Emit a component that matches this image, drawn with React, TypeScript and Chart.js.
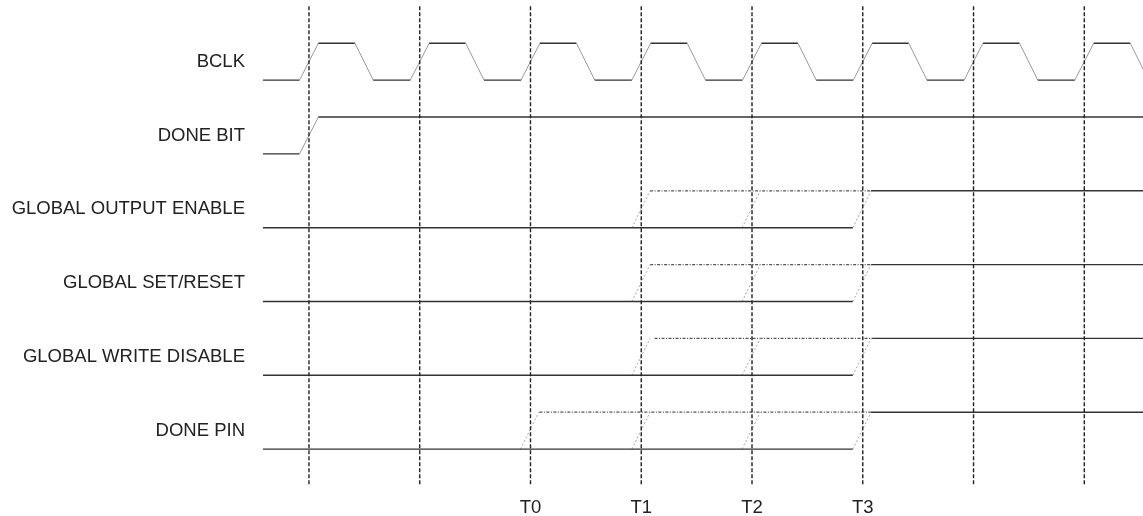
import React, { useEffect, useRef } from "react";
import { Chart, registerables } from "chart.js";

Chart.register(...registerables);

// Signal names (top to bottom) and the base (low-level) row value of each
const signalNames = [
  "BCLK",
  "DONE BIT",
  "GLOBAL OUTPUT ENABLE",
  "GLOBAL SET/RESET",
  "GLOBAL WRITE DISABLE",
  "DONE PIN",
];
const rowBases = [10, 8, 6, 4, 2, 0];

// Clock edges (dashed markers) in clock periods, and the labelled ones
const markerTimes = [0, 1, 2, 3, 4, 5, 6, 7];
const markerLabelTimes = [2, 3, 4, 5];
const markerLabels = ["T0", "T1", "T2", "T3"];

// Solid waveform segments: [time, level] pairs, null = break
const bclkWave: ([number, number] | null)[] = [
  [-0.42, 0], [-0.085, 0], [0.085, 1], [0.415, 1], [0.58, 0], [0.915, 0],
  [1.085, 1], [1.415, 1], [1.58, 0], [1.915, 0], [2.085, 1], [2.415, 1],
  [2.58, 0], [2.915, 0], [3.085, 1], [3.415, 1], [3.58, 0], [3.915, 0],
  [4.085, 1], [4.415, 1], [4.58, 0], [4.915, 0], [5.085, 1], [5.415, 1],
  [5.58, 0], [5.915, 0], [6.085, 1], [6.415, 1], [6.58, 0], [6.915, 0],
  [7.085, 1], [7.415, 1], [7.58, 0],
];
const doneBitWave: ([number, number] | null)[] = [
  [-0.42, 0], [-0.085, 0], [0.085, 1], [7.6, 1],
];
const goeWave: ([number, number] | null)[] = [
  [-0.42, 0], [4.91, 0], null, [5.075, 1], [7.6, 1],
];
const gsrWave: ([number, number] | null)[] = [
  [-0.42, 0], [4.91, 0], null, [5.075, 1], [7.6, 1],
];
const gwdWave: ([number, number] | null)[] = [
  [-0.42, 0], [4.91, 0], null, [5.085, 1], [7.6, 1],
];
const donePinWave: ([number, number] | null)[] = [
  [-0.42, 0], [4.91, 0], null, [5.075, 1], [7.6, 1],
];

// Possible (pending) edges: start times of dotted rising edges
const goeEdges = [2.915, 3.91, 4.91];
const gsrEdges = [2.915, 3.91, 4.91];
const gwdEdges = [2.915, 3.91, 4.91];
const donePinEdges = [1.91, 2.915, 3.91, 4.91];
const edgeWidth = 0.165;

// Pending high level (dash-dot): [start, end]
const goePending = [3.08, 5.075];
const gsrPending = [3.08, 5.075];
const gwdPending = [3.12, 5.085];
const donePinPending = [2.08, 5.075];

const waves = [bclkWave, doneBitWave, goeWave, gsrWave, gwdWave, donePinWave];
const edgeSets = [[], [], goeEdges, gsrEdges, gwdEdges, donePinEdges];
const pendings = [null, null, goePending, gsrPending, gwdPending, donePinPending];

const markerBottom = -0.95;
const markerTop = 12.0;

const FONT = '"Liberation Sans", Arial, Helvetica, sans-serif';

export default function App() {
  const ref = useRef<HTMLCanvasElement | null>(null);

  useEffect(() => {
    if (!ref.current) return;
    const datasets: any[] = [];

    markerTimes.forEach((t) => {
      datasets.push({
        data: [
          { x: t, y: markerBottom },
          { x: t, y: markerTop },
        ],
        showLine: true,
        borderColor: "#222",
        borderWidth: 1.4,
        borderDash: [4, 2],
        pointRadius: 0,
      });
    });

    waves.forEach((w, i) => {
      const base = rowBases[i];
      datasets.push({
        data: w.map((p) => (p ? { x: p[0], y: base + p[1] } : { x: NaN, y: NaN })),
        showLine: true,
        spanGaps: false,
        borderWidth: 1.4,
        borderColor: "#333",
        pointRadius: 0,
        segment: {
          borderColor: (ctx: any) =>
            Math.abs(ctx.p0.parsed.y - ctx.p1.parsed.y) < 1e-6 ? "#333" : "#9a9a9a",
          borderWidth: (ctx: any) =>
            Math.abs(ctx.p0.parsed.y - ctx.p1.parsed.y) < 1e-6 ? 1.4 : 1,
        },
      });
      edgeSets[i].forEach((t: number) => {
        datasets.push({
          data: [
            { x: t, y: base },
            { x: t + edgeWidth, y: base + 1 },
          ],
          showLine: true,
          borderColor: "#a8a8a8",
          borderWidth: 1,
          borderDash: [2, 2],
          pointRadius: 0,
        });
      });
      const pd = pendings[i];
      if (pd) {
        datasets.push({
          data: [
            { x: pd[0], y: base + 1 },
            { x: pd[1], y: base + 1 },
          ],
          showLine: true,
          borderColor: "#555",
          borderWidth: 1.2,
          borderDash: [3, 1.5, 1, 1.5],
          pointRadius: 0,
        });
      }
    });

    const chart = new Chart(ref.current, {
      type: "scatter",
      data: { datasets },
      options: {
        animation: false,
        responsive: false,
        layout: { padding: 0, autoPadding: false } as any,
        plugins: { legend: { display: false }, tooltip: { enabled: false } },
        events: [],
        scales: {
          x: {
            type: "linear",
            min: -0.415,
            max: 7.53,
            grid: { display: false, drawTicks: false },
            border: { display: false },
            afterBuildTicks: (s: any) => {
              s.ticks = markerLabelTimes.map((v) => ({ value: v }));
            },
            afterFit: (s: any) => {
              s.height = 30;
              s.paddingLeft = 0;
              s.paddingRight = 0;
            },
            ticks: {
              padding: 11,
              color: "#222",
              font: { family: FONT, size: 18.5 },
              maxRotation: 0,
              autoSkip: false,
              callback: (v: any) => {
                const k = markerLabelTimes.indexOf(Number(v));
                return k >= 0 ? markerLabels[k] : "";
              },
            },
          },
          y: {
            type: "linear",
            min: -1.0,
            max: 12.17,
            grid: { display: false, drawTicks: false },
            border: { display: false },
            afterBuildTicks: (s: any) => {
              s.ticks = rowBases.map((b) => ({ value: b + 0.5 }));
            },
            afterFit: (s: any) => {
              s.width = 263;
              s.paddingTop = 0;
              s.paddingBottom = 0;
            },
            ticks: {
              padding: 18,
              color: "#222",
              font: { family: FONT, size: 18.5 },
              autoSkip: false,
              callback: (v: any) => {
                const k = rowBases.findIndex((b) => Math.abs(b + 0.5 - Number(v)) < 1e-6);
                return k >= 0 ? signalNames[k] : "";
              },
            },
          },
        },
      },
    });
    return () => chart.destroy();
  }, []);

  return (
    <div style={{ position: "fixed", left: 0, top: 0, width: 1143, height: 516, background: "#fff" }}>
      <canvas ref={ref} width={1143} height={516} />
    </div>
  );
}
